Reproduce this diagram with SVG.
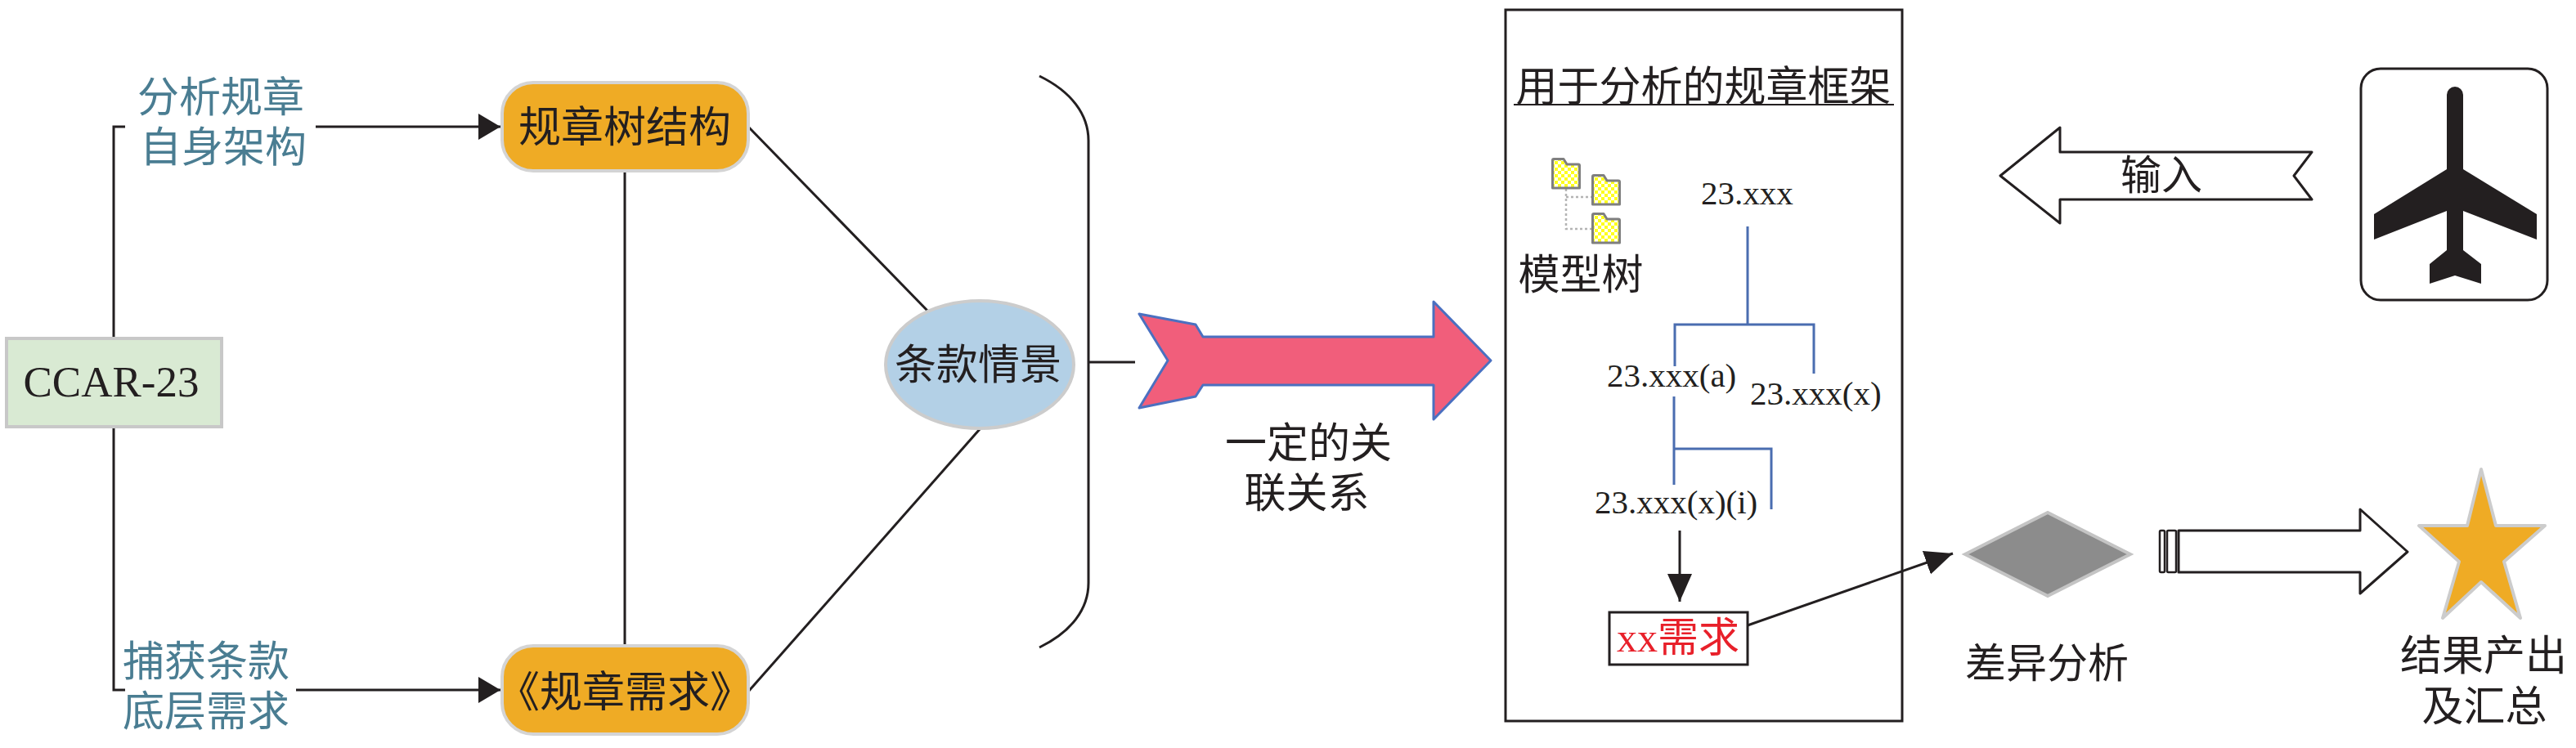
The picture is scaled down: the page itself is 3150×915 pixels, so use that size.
<svg xmlns="http://www.w3.org/2000/svg" width="3150" height="915" viewBox="0 0 3150 915">
<style>
.cjk{font-family:"Liberation Serif","Noto Sans CJK SC",serif;font-size:51px;fill:#231f20}
.teal{fill:#4a7d92}
.lat{font-family:"Liberation Serif",serif;font-size:41px;fill:#231f20}
.ln{stroke:#231f20;stroke-width:3;fill:none}
.tree{stroke:#4a6db0;stroke-width:3;fill:none}
.obox{fill:#efab25;stroke:#d4d4d4;stroke-width:4}
.dot{stroke:#b4b4b4;stroke-width:2.5;stroke-dasharray:3 3;fill:none}
</style>
<defs>
<marker id="mA" markerUnits="userSpaceOnUse" markerWidth="28" markerHeight="34" refX="27" refY="16" orient="auto">
<path d="M0,0 L27,16 L0,32 Z" fill="#231f20"/>
</marker>
<marker id="mB" markerUnits="userSpaceOnUse" markerWidth="36" markerHeight="32" refX="34" refY="15" orient="auto">
<path d="M0,0 L34,15 L0,30 Z" fill="#231f20"/>
</marker>
<pattern id="chk" patternUnits="userSpaceOnUse" width="8" height="8">
<rect width="8" height="8" fill="#ffffff"/>
<rect width="4" height="4" fill="#ffff1e"/>
<rect x="4" y="4" width="4" height="4" fill="#ffff1e"/>
</pattern>
<g id="folder">
<path d="M1.5,37 L1.5,3 Q1.5,1.5 3,1.5 L15,1.5 L19,8 L33,8 Q34.5,8 34.5,9.5 L34.5,37 Z" fill="url(#chk)" stroke="#7f7f7f" stroke-width="3" stroke-linejoin="round"/>
</g>
</defs>
<rect width="3150" height="915" fill="#ffffff"/>

<g id="connectors">
<path class="ln" d="M153,155 H139 V414"/>
<path class="ln" d="M139,522 V844 H153"/>
<line class="ln" x1="386" y1="155" x2="612" y2="155" marker-end="url(#mA)"/>
<line class="ln" x1="362" y1="844" x2="612" y2="844" marker-end="url(#mA)"/>
<line class="ln" x1="764" y1="210" x2="764" y2="789"/>
<line class="ln" x1="915" y1="155" x2="1136" y2="382"/>
<line class="ln" x1="915" y1="846" x2="1198" y2="525"/>
<path class="ln" d="M1271,93 C1310,112 1331,140 1331,172 L1331,713 C1331,745 1310,773 1271,792"/>
<line class="ln" x1="1331" y1="443" x2="1388" y2="443"/>
<path class="tree" d="M2137,277 V397 M2048,448 V397 H2218 V457 M2047,485 V593 M2047,549 H2166 V623"/>
<line class="ln" x1="2054" y1="649" x2="2054" y2="736" marker-end="url(#mB)"/>
<line class="ln" x1="2137" y1="765" x2="2388" y2="677" marker-end="url(#mB)"/>
<path class="dot" d="M1915,231 V280 H1946 M1915,241 H1946"/>
</g>

<g id="label-top">
<text class="cjk teal" x="270" y="137" text-anchor="middle">分析规章</text>
<text class="cjk teal" x="273" y="198" text-anchor="middle">自身架构</text>
</g>
<g id="label-bottom">
<text class="cjk teal" x="252" y="827" text-anchor="middle">捕获条款</text>
<text class="cjk teal" x="252" y="888" text-anchor="middle">底层需求</text>
</g>

<g id="ccar23">
<rect x="8" y="414" width="263" height="108" fill="#d9ead3" stroke="#c8c8c8" stroke-width="4"/>
<text x="136" y="485" text-anchor="middle" style="font-family:'Liberation Serif',serif;font-size:53px;fill:#231f20">CCAR-23</text>
</g>

<g id="tree-structure">
<rect class="obox" x="614" y="101" width="301" height="108" rx="38"/>
<text class="cjk" x="764" y="174" text-anchor="middle" style="font-size:52px">规章树结构</text>
</g>

<g id="requirements">
<rect class="obox" x="614" y="790" width="301" height="108" rx="38"/>
<text class="cjk" x="764" y="865" text-anchor="middle" style="font-size:52px">《规章需求》</text>
</g>

<g id="scenario">
<ellipse cx="1198" cy="446" rx="115" ry="78" fill="#b3d0e6" stroke="#cccccc" stroke-width="4"/>
<text class="cjk" x="1196" y="464" text-anchor="middle">条款情景</text>
</g>

<g id="relation-arrow">
<polygon points="1393,384 1462,397 1471,412 1753,412 1753,369 1823,441 1753,513 1753,471 1471,471 1462,485 1393,499 1428,441" fill="#f15e7b" stroke="#4b70c0" stroke-width="3" stroke-linejoin="round"/>
<text class="cjk" x="1600" y="560" text-anchor="middle">一定的关</text>
<text class="cjk" x="1598" y="621" text-anchor="middle">联关系</text>
</g>

<g id="framework">
<rect x="1841" y="12" width="485" height="870" fill="none" stroke="#231f20" stroke-width="3"/>
<text class="cjk" x="2083" y="124" text-anchor="middle">用于分析的规章框架</text>
<line x1="1851" y1="128" x2="2316" y2="128" stroke="#231f20" stroke-width="2"/>
</g>

<g id="model-tree-icon">
<use href="#folder" x="1897" y="193"/>
<use href="#folder" x="1946" y="213"/>
<use href="#folder" x="1946" y="260"/>
<text class="cjk" x="1933" y="354" text-anchor="middle">模型树</text>
</g>

<g id="node-23xxx"><text class="lat" x="2080" y="250">23.xxx</text></g>
<g id="node-23xxx-a"><text class="lat" x="1965" y="473">23.xxx(a)</text></g>
<g id="node-23xxx-x"><text class="lat" x="2140" y="495">23.xxx(x)</text></g>
<g id="node-23xxx-x-i"><text class="lat" x="1950" y="628">23.xxx(x)(i)</text></g>

<g id="xx-req">
<rect x="1968" y="749" width="169" height="64" fill="#ffffff" stroke="#231f20" stroke-width="3"/>
<text class="cjk" x="1977" y="797" style="font-size:50px;fill:#e8202a">xx需求</text>
</g>

<g id="input-arrow">
<polygon points="2446,215 2519,156 2519,186 2827,186 2805,215 2827,244 2519,244 2519,273" fill="#ffffff" stroke="#231f20" stroke-width="3" stroke-linejoin="round"/>
<text class="cjk" x="2643" y="232" text-anchor="middle" style="font-size:50px">输入</text>
</g>

<g id="aircraft">
<rect x="2887" y="84" width="228" height="283" rx="24" fill="#ffffff" stroke="#231f20" stroke-width="3"/>
<path d="M2992,116 A10,10 0 0 1 3012,116 L3012,207 L3102,262 L3102,293 L3012,258 L3012,306 L3034,323 L3034,347 L3002,337 L2971,347 L2971,323 L2992,306 L2992,258 L2903,293 L2903,262 L2992,207 Z" fill="#231f20"/>
</g>

<g id="gap-analysis">
<polygon points="2403,678 2504,627 2605,678 2504,729" fill="#8c8c8c" stroke="#c4c4c4" stroke-width="4"/>
<text class="cjk" x="2503" y="829" text-anchor="middle" style="font-size:50px">差异分析</text>
</g>

<g id="output-arrow">
<rect x="2641" y="649" width="6" height="51" rx="1.5" fill="#ffffff" stroke="#231f20" stroke-width="2.5"/>
<rect x="2650" y="649" width="11" height="51" rx="1.5" fill="#ffffff" stroke="#231f20" stroke-width="2.5"/>
<polygon points="2664,649 2886,649 2886,623 2944,675 2886,726 2886,700 2664,700" fill="#ffffff" stroke="#231f20" stroke-width="3" stroke-linejoin="round"/>
</g>

<g id="result">
<polygon points="3034,574 3052,643 3112,643 3062,687 3082,756 3034,712 2987,756 3007,687 2958,643 3017,643" fill="#efab25" stroke="#cccccc" stroke-width="4" stroke-linejoin="round"/>
<text class="cjk" x="3037" y="820" text-anchor="middle">结果产出</text>
<text class="cjk" x="3038" y="882" text-anchor="middle">及汇总</text>
</g>
</svg>
